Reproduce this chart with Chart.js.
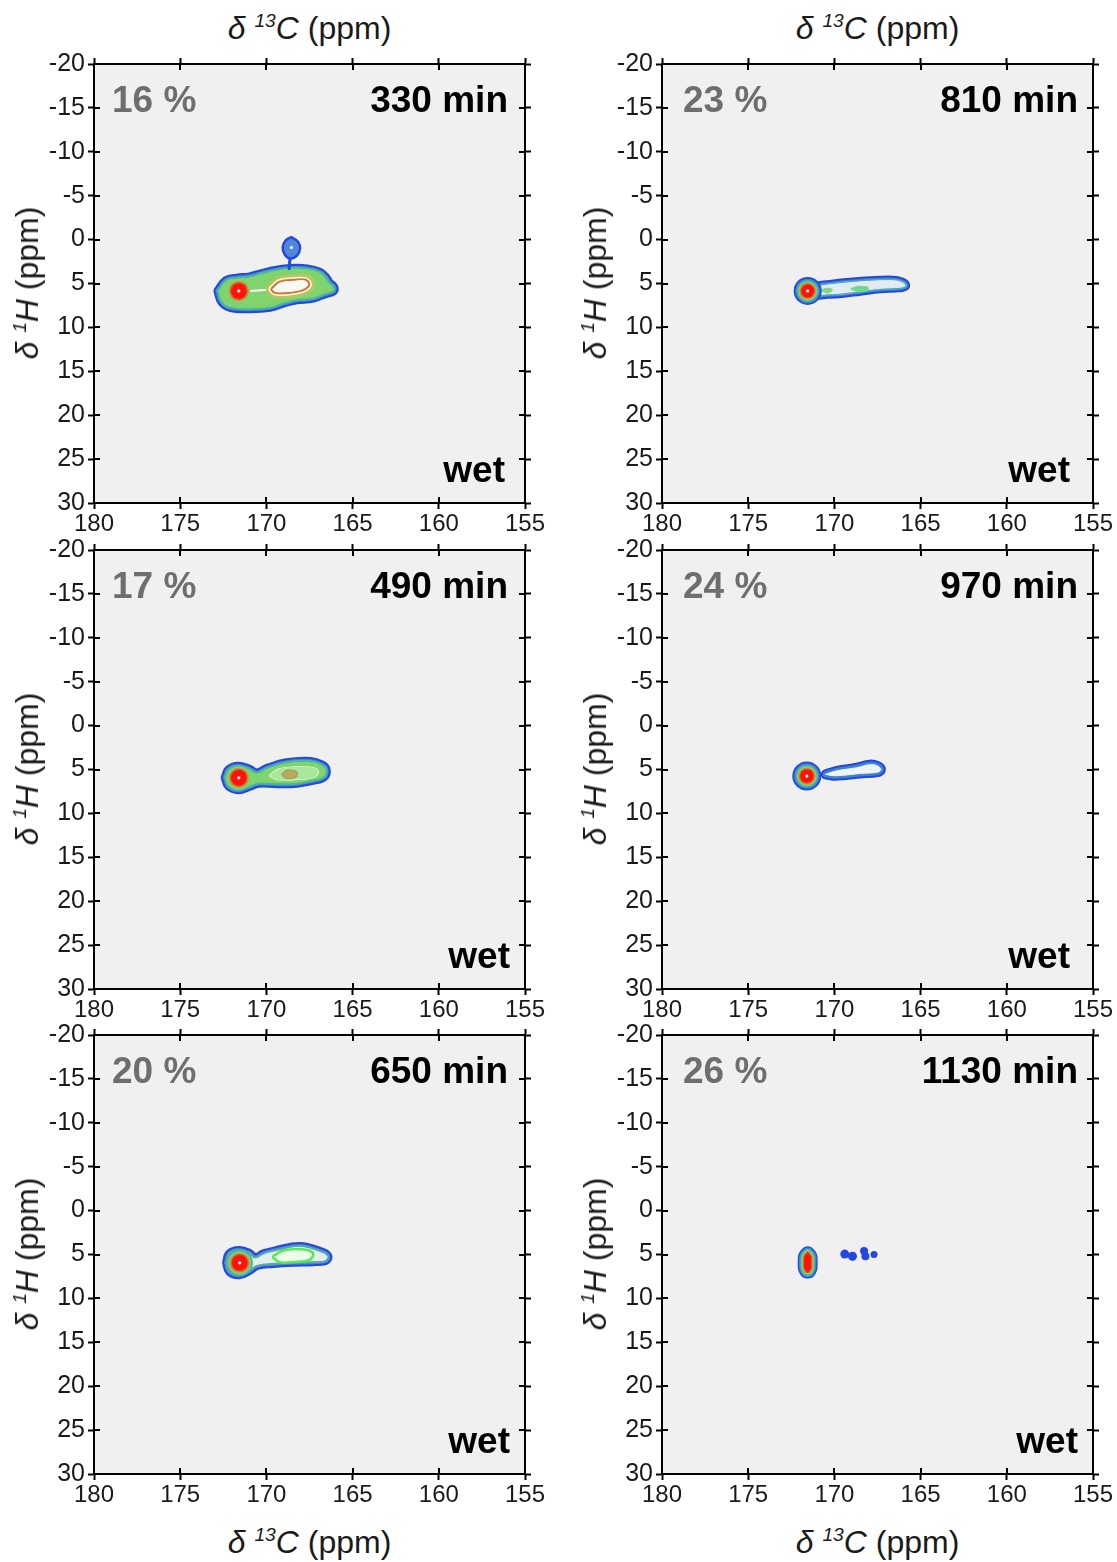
<!DOCTYPE html>
<html>
<head>
<meta charset="utf-8">
<script src="https://cdn.jsdelivr.net/npm/chart.js@4.4.1/dist/chart.umd.min.js"></script>
<style>
  body { margin: 0; background: #fff; width: 1117px; height: 1562px; position: relative; overflow: hidden;
         font-family: "Liberation Sans", Arial, sans-serif; }
  canvas { position: absolute; }
  .t { position: absolute; white-space: nowrap; line-height: 37px; font-size: 37px; font-weight: bold; }
  .pct { color: #6e6e6e; }
  .ax { position: absolute; white-space: nowrap; font-size: 32px; line-height: 32px; color: #1a1a1a; }
  .ax i { font-style: italic; }
  .ax sup { font-size: 0.6em; font-style: italic; vertical-align: 0.65em; line-height: 0; }
</style>
</head>
<body>
<script>
// ---- data, ppm (13C, 1H) ----
const cTicks = [180, 175, 170, 165, 160, 155];
const hTicks = [-20, -15, -10, -5, 0, 5, 10, 15, 20, 25, 30];
// panels: left column top->bottom, then right column top->bottom
const waterPct = ['16 %', '17 %', '20 %', '23 %', '24 %', '26 %'];
const times = ['330 min', '490 min', '650 min', '810 min', '970 min', '1130 min'];
const peakC = [171.6, 171.6, 171.55, 171.55, 171.6, 171.55];
const peakH = [5.85, 5.95, 5.95, 5.85, 5.75, 5.9];

// 330 min
const lobe330 = [[172.75,5.85],[172.3,4.75],[171.7,4.5],[170.95,4.35],[170.2,3.95],[169.4,3.6],[168.6,3.4],
  [167.65,3.45],[166.95,3.8],[166.6,4.4],[166.4,5.0],[166.15,5.45],[166.15,5.75],[166.6,6.05],[167.3,6.55],
  [168.25,6.75],[169.0,7.1],[169.8,7.6],[170.95,7.75],[172.1,7.6],[172.55,7.0]];
const core330 = [[169.63,5.66],[169.21,4.95],[168.44,4.75],[167.76,4.72],[167.6,5.17],[168.05,5.7],[169.02,5.95],[169.5,5.9]];
const streak330 = [[171.0,5.85],[170.3,5.78],[169.6,5.68]];
const cap330 = [[168.55,-0.05],[168.25,0.35],[168.15,1.0],[168.3,1.7],[168.6,1.95],[168.85,1.6],[168.95,0.85],[168.8,0.2]];
const stem330 = [[168.62,1.9],[168.68,3.3]];

// 490 min
const lobe490 = [[172.33,5.93],[172.15,5.1],[171.63,4.73],[171.05,5.05],[170.55,5.5],[169.9,4.95],[168.82,4.35],
  [167.47,4.2],[166.85,4.55],[166.6,5.0],[166.7,5.75],[167.25,6.1],[168.24,6.45],[169.4,6.5],[170.47,6.45],
  [171.05,6.85],[171.63,7.19],[172.15,6.8]];
const loop490 = [[169.8,5.7],[169.3,5.0],[168.2,4.75],[167.25,4.85],[167.0,5.3],[167.35,5.9],[168.4,6.1],[169.4,6.1]];
const spot490 = [[169.05,5.55],[168.8,5.2],[168.35,5.25],[168.25,5.6],[168.5,5.9],[168.9,5.85]];

// 650 min
const lobe650 = [[172.25,5.93],[172.1,5.0],[171.57,4.66],[171.05,4.95],[170.66,5.5],[170.1,5.0],[169.4,4.66],
  [168.05,4.2],[166.85,4.8],[166.5,5.2],[166.6,5.6],[167.28,5.7],[168.44,5.76],[169.6,5.9],[170.56,6.14],
  [171.05,6.75],[171.57,7.19],[172.1,6.85]];
const loop650 = [[169.5,5.3],[169.0,4.75],[168.0,4.6],[167.4,4.9],[167.55,5.45],[168.4,5.65],[169.2,5.7]];

// 810 min
const lobe810 = [[171.0,5.35],[170.45,5.2],[169.3,4.95],[167.95,4.75],[166.6,4.68],[166.1,4.88],[165.9,5.2],
  [166.05,5.38],[166.45,5.45],[167.35,5.55],[168.5,5.82],[169.7,6.1],[170.45,6.18],[171.0,6.2]];
const spot810a = [[169.0,5.6],[168.6,5.38],[168.1,5.45],[168.1,5.75],[168.55,5.85]];
const spot810b = [[170.75,5.8],[170.45,5.6],[170.15,5.75],[170.4,6.0]];

// 970 min
const lobe970 = [[170.5,5.55],[169.85,5.15],[168.7,4.8],[167.95,4.45],[167.5,4.6],[167.3,5.0],[167.5,5.3],
  [168.5,5.45],[169.45,5.65],[170.1,5.7]];

// 1130 min
const core1130 = [[171.55,4.85],[171.4,5.2],[171.38,5.9],[171.4,6.6],[171.55,6.95],[171.7,6.6],[171.72,5.9],[171.7,5.2]];
const dotsC = [169.4, 168.95, 168.28, 168.2, 167.7];
const dotsH = [4.95, 5.2, 4.6, 5.2, 5.0];

// ---- styles ----
const BLUE = '#2447e0', STEEL = '#3f82cf', TEAL = '#4cb4a0', GREEN = '#80d46e',
      OLIVE = '#b4a04c', ORANGE = '#e0602c', RED = '#ff1208';
const colLeft = [94, 662], rowTop = [62, 548, 1033];
const plotW = 431, plotH = 441;
const padL = 72, padR = 28, padT = 16, padB = 40;
const panelPos = [[0,0],[0,1],[0,2],[1,0],[1,1],[1,2]];
const peakR = [17, 17, 17, 14, 14.5, 0];
const peakFrom = [3, 3, 2, 0, 0, 0];   // first ring level drawn around the peak
const pctLeft = [18, 18, 18, 21, 21, 21];
const timeRight = [414, 414, 414, 416, 416, 416];
const wetRight = [411, 416, 416, 408, 408, 416];
const FONT = '"Liberation Sans", Arial, sans-serif';

function closed(a) { return a.concat([a[0]]); }
function line(data, color, width, extra) {
  return Object.assign({ data, showLine: true, borderColor: color, borderWidth: width, pointRadius: 0,
    fill: false, tension: 0.4, borderJoinStyle: 'round', borderCapStyle: 'round' }, extra || {});
}
// rings drawn outermost first, interior filled last
function region(data, rings, inside) {
  const d = closed(data);
  const out = rings.map(([c, w]) => line(d, c, w));
  out.push(line(d, inside, 1, { fill: 'shape', backgroundColor: inside }));
  return out;
}
function peak(c, h, r, from) {
  const steps = [[BLUE,1],[STEEL,.88],[TEAL,.78],[GREEN,.68],[OLIVE,.6],[ORANGE,.53],[RED,.46]];
  const out = steps.slice(from).map(([col, f]) => ({ data: [[c, h]], pointRadius: r * f,
    pointBackgroundColor: col, pointBorderWidth: 0 }));
  out.push({ data: [[c, h]], pointRadius: 1.6, pointBackgroundColor: '#fff', pointBorderWidth: 0 });
  return out;
}

const datasetsFor = [
  () => [
    ...region(lobe330, [[BLUE,11],[STEEL,7],[TEAL,5]], GREEN),
    line(streak330, '#ffffff', 2),
    ...region(core330, [['#b3c85a',14],['#fbfbf3',8],['#d07838',5]], '#fbfaf2'),
    line(stem330, BLUE, 3),
    ...region(cap330, [[BLUE,6]], '#5089d8'),
    { data: [[168.55,0.9]], pointRadius: 1.5, pointBackgroundColor: '#fff', pointBorderWidth: 0 }
  ],
  () => [
    ...region(lobe490, [[BLUE,11],[STEEL,7],[TEAL,5]], GREEN),
    ...region(loop490, [['#ffffff',2]], '#a8e89c'),
    ...region(spot490, [['#a89a50',3]], '#b8aa62')
  ],
  () => [
    ...region(lobe650, [[BLUE,11],[STEEL,7],['#5aa6b0',5]], '#e4eeea'),
    ...region(loop650, [['#52ec52',6]], '#eefaea')
  ],
  () => [
    ...region(lobe810, [[BLUE,10],[STEEL,6],['#56a7c0',4]], '#e2ecee'),
    ...region(spot810a, [['#6fd88a',2]], '#6fd88a'),
    ...region(spot810b, [['#7fd88a',2]], '#7fd88a')
  ],
  () => [
    ...region(lobe970, [[BLUE,10],[STEEL,6]], '#eef4f4')
  ],
  () => [
    { data: dotsC.map((c, i) => [c, dotsH[i]]), pointRadius: [4.5, 4.5, 4, 4, 3.5],
      pointBackgroundColor: BLUE, pointBorderWidth: 0 },
    ...region(core1130, [[BLUE,14],[STEEL,11.5],[TEAL,9],[GREEN,6.5],[ORANGE,3.5]], RED)
  ]
];

const frame = {
  id: 'frame',
  beforeDraw(chart) {
    const { ctx, chartArea: a } = chart;
    ctx.save();
    ctx.fillStyle = '#f0f0f0';
    ctx.fillRect(a.left, a.top, a.width, a.height);
    ctx.restore();
  },
  afterDraw(chart) {
    // tick marks also reach into the plot box
    const { ctx, chartArea: a, scales } = chart;
    ctx.save();
    ctx.strokeStyle = '#000';
    ctx.lineWidth = 2;
    ctx.beginPath();
    cTicks.slice(1, -1).forEach(v => {
      const px = Math.round(scales.x.getPixelForValue(v));
      ctx.moveTo(px, a.bottom); ctx.lineTo(px, a.bottom - 6);
      ctx.moveTo(px, a.top); ctx.lineTo(px, a.top + 6);
    });
    hTicks.slice(1, -1).forEach(v => {
      const py = Math.round(scales.y.getPixelForValue(v));
      ctx.moveTo(a.left, py); ctx.lineTo(a.left + 6, py);
      ctx.moveTo(a.right, py); ctx.lineTo(a.right - 6, py);
    });
    ctx.stroke();
    ctx.restore();
  }
};

function axis(position, list, showLabels, size) {
  const horiz = position === 'top' || position === 'bottom';
  return {
    type: 'linear', position, reverse: true,
    min: horiz ? 155 : -20, max: horiz ? 180 : 30,
    afterBuildTicks: s => { s.ticks = list.map(value => ({ value })); },
    afterFit: s => { if (horiz) s.height = size; else s.width = size; },
    grid: { drawOnChartArea: false, tickLength: 6, tickWidth: 2, tickColor: '#000' },
    border: { display: true, color: '#000', width: 2 },
    ticks: { display: showLabels, color: '#1a1a1a', font: { family: FONT, size: horiz ? 24 : 25 },
      padding: horiz ? 1 : 3, maxRotation: 0, autoSkip: false }
  };
}

function addDiv(cls, html, css) {
  const d = document.createElement('div');
  d.className = cls;
  d.innerHTML = html;
  Object.assign(d.style, css);
  document.body.appendChild(d);
  return d;
}

panelPos.forEach(([col, row], i) => {
  const left = colLeft[col], top = rowTop[row];
  const cv = document.createElement('canvas');
  cv.width = padL + plotW + padR;
  cv.height = padT + plotH + padB;
  cv.style.left = (left - padL) + 'px';
  cv.style.top = (top - padT) + 'px';
  document.body.appendChild(cv);

  let sets = datasetsFor[i]();
  if (peakR[i] > 0) sets = sets.concat(peak(peakC[i], peakH[i], peakR[i], peakFrom[i]));
  sets.forEach((d, k) => { d.order = -k; });

  new Chart(cv.getContext('2d'), {
    type: 'scatter',
    data: { datasets: sets },
    options: {
      responsive: false, animation: false, events: [], devicePixelRatio: 1,
      layout: { padding: 0 },
      plugins: { legend: { display: false }, tooltip: { enabled: false }, title: { display: false } },
      scales: {
        x: axis('bottom', cTicks, true, padB),
        x2: axis('top', cTicks, false, padT),
        y: axis('left', hTicks, true, padL),
        y2: axis('right', hTicks, false, padR)
      }
    },
    plugins: [frame]
  });

  // annotations
  addDiv('t pct', waterPct[i], { left: (left + pctLeft[i]) + 'px', top: (top + 19) + 'px' });
  addDiv('t', times[i], { right: (1117 - left - timeRight[i]) + 'px', top: (top + 19) + 'px' });
  addDiv('t', 'wet', { right: (1117 - left - wetRight[i]) + 'px', top: (top + 389) + 'px' });

  // y axis title
  addDiv('ax', '<i>δ</i> <sup>1</sup><i>H</i> (ppm)', {
    left: (left - 67) + 'px', top: (top + plotH / 2) + 'px',
    transform: 'translate(-50%, -50%) rotate(-90deg)'
  });
  if (row === 0 || row === 2) {
    addDiv('ax', '<i>δ</i> <sup>13</sup><i>C</i> (ppm)', {
      left: (left + plotW / 2) + 'px', top: (row === 0 ? 28 : 1542) + 'px',
      transform: 'translate(-50%, -50%)'
    });
  }
});
</script>
</body>
</html>
